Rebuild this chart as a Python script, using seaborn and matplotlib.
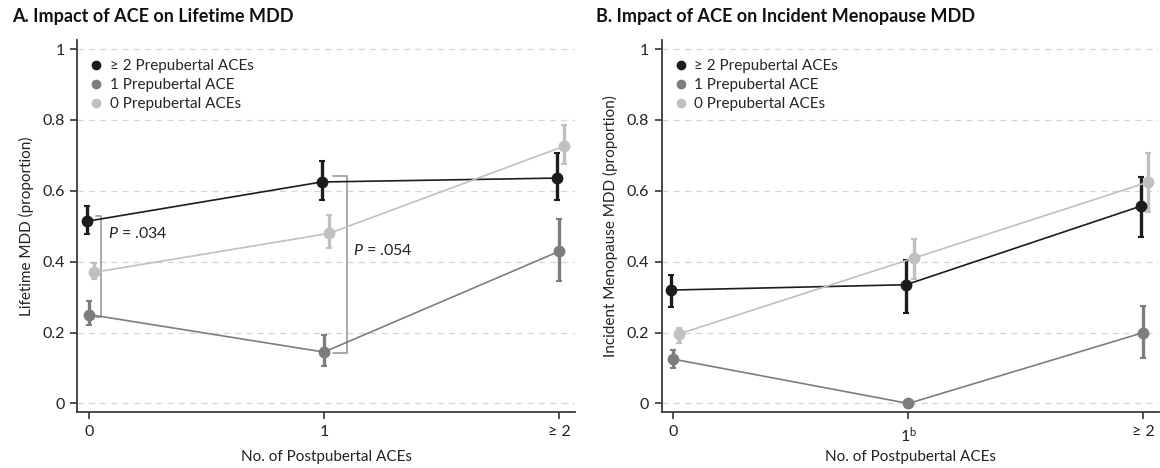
import numpy as np
import pandas as pd
import matplotlib
matplotlib.use("Agg")
import matplotlib.pyplot as plt
from matplotlib.ticker import FixedLocator, FuncFormatter
import seaborn as sns

# --- data (proportions) ---
post_labels = ["0", "1", "≥ 2"]
post_labels_b = ["0", "1$^{\\mathrm{b}}$", "≥ 2"]
groups = ["≥ 2 Prepubertal ACEs", "1 Prepubertal ACE", "0 Prepubertal ACEs"]

# panel A: lifetime MDD
a_mean = {
    "≥ 2 Prepubertal ACEs": [0.514, 0.625, 0.636],
    "1 Prepubertal ACE": [0.251, 0.145, 0.429],
    "0 Prepubertal ACEs": [0.370, 0.480, 0.726],
}
a_lo = {
    "≥ 2 Prepubertal ACEs": [0.479, 0.573, 0.573],
    "1 Prepubertal ACE": [0.222, 0.107, 0.345],
    "0 Prepubertal ACEs": [0.352, 0.438, 0.676],
}
a_hi = {
    "≥ 2 Prepubertal ACEs": [0.558, 0.683, 0.706],
    "1 Prepubertal ACE": [0.288, 0.192, 0.521],
    "0 Prepubertal ACEs": [0.396, 0.533, 0.787],
}

# panel B: incident menopause MDD
b_mean = {
    "≥ 2 Prepubertal ACEs": [0.320, 0.335, 0.557],
    "1 Prepubertal ACE": [0.125, 0.0, 0.200],
    "0 Prepubertal ACEs": [0.196, 0.410, 0.625],
}
b_lo = {
    "≥ 2 Prepubertal ACEs": [0.272, 0.256, 0.470],
    "1 Prepubertal ACE": [0.100, 0.0, 0.127],
    "0 Prepubertal ACEs": [0.172, 0.352, 0.540],
}
b_hi = {
    "≥ 2 Prepubertal ACEs": [0.363, 0.406, 0.640],
    "1 Prepubertal ACE": [0.150, 0.0, 0.275],
    "0 Prepubertal ACEs": [0.213, 0.465, 0.707],
}

colors = {"≥ 2 Prepubertal ACEs": "#1c1c1c",
          "1 Prepubertal ACE": "#7d7d7d",
          "0 Prepubertal ACEs": "#c0c0c0"}
dodge = {"≥ 2 Prepubertal ACEs": -0.01,
         "1 Prepubertal ACE": 0.0,
         "0 Prepubertal ACEs": 0.022}

sns.set_theme(style="ticks")
plt.rcParams["font.family"] = ["Lato", "DejaVu Sans"]
plt.rcParams["mathtext.fontset"] = "custom"
plt.rcParams["mathtext.rm"] = "Lato"
plt.rcParams["mathtext.it"] = "Lato:italic"

fig = plt.figure(figsize=(11.6, 4.68), dpi=100)
axA = fig.add_axes([0.0666, 0.119, 0.429, 0.795])
axB = fig.add_axes([0.5704, 0.119, 0.429, 0.795])


def to_frame(mean, lo, hi):
    rows = []
    for g in groups:
        for i in range(3):
            rows.append({"group": g, "x": i + dodge[g], "p": mean[g][i],
                         "lo": lo[g][i], "hi": hi[g][i]})
    return pd.DataFrame(rows)


def draw(ax, df, ylabel, xticklabels):
    for y in [0, 0.2, 0.4, 0.6, 0.8, 1.0]:
        ax.axhline(y, color="#d6d6d6", lw=0.9, ls=(0, (5, 4)), zorder=0)
    for g in groups:
        d = df[df.group == g]
        ax.errorbar(d.x, d.p, yerr=[d.p - d.lo, d.hi - d.p], fmt="none",
                    ecolor=colors[g], elinewidth=2.4, capsize=2.0,
                    capthick=1.5, zorder=2)
    sns.lineplot(data=df, x="x", y="p", hue="group", hue_order=groups,
                 palette=colors, marker="o", markersize=8.5,
                 markeredgewidth=0, linewidth=1.2, sort=False,
                 ax=ax, legend=False, zorder=3)
    ax.set_xlim(-0.05, 2.068)
    ax.set_ylim(-0.025, 1.025)
    ax.xaxis.set_major_locator(FixedLocator([0, 1, 2]))
    ax.set_xticklabels(xticklabels)
    ax.yaxis.set_major_locator(FixedLocator([0, 0.2, 0.4, 0.6, 0.8, 1.0]))
    ax.yaxis.set_major_formatter(FuncFormatter(lambda v, p: "0" if v == 0 else ("1" if v == 1 else f"{v:.1f}")))
    ax.set_xlabel("No. of Postpubertal ACEs", fontsize=11, color="#222222")
    ax.xaxis.set_label_coords(0.5, -0.1)
    ax.set_ylabel(ylabel, fontsize=11, color="#222222", labelpad=6)
    ax.tick_params(axis="both", labelsize=11.5, colors="#222222", length=5, width=1.1, pad=4)
    sns.despine(ax=ax)
    for s in ["left", "bottom"]:
        ax.spines[s].set_color("#3a3a3a")
        ax.spines[s].set_linewidth(1.3)
    # legend (markers only)
    handles = [plt.Line2D([], [], ls="none", marker="o", markersize=6,
                          color=colors[g]) for g in groups]
    ax.legend(handles, groups, loc="upper left", bbox_to_anchor=(-0.005, 0.99),
              frameon=False, fontsize=11, handlelength=0.8, handletextpad=0.5,
              labelspacing=0.33, borderaxespad=0.6)


dfA = to_frame(a_mean, a_lo, a_hi)
dfB = to_frame(b_mean, b_lo, b_hi)
draw(axA, dfA, "Lifetime MDD (proportion)", post_labels)
draw(axB, dfB, "Incident Menopause MDD (proportion)", post_labels_b)

# significance brackets on panel A
br = "#9a9a9a"
axA.plot([0.029, 0.053, 0.053, 0.029], [0.528, 0.528, 0.244, 0.244], color=br, lw=1.2, zorder=1)
axA.plot([1.037, 1.097, 1.097, 1.037], [0.643, 0.643, 0.141, 0.141], color=br, lw=1.2, zorder=1)
axA.text(0.08, 0.48, "$\\it{P}$ = .034", fontsize=11.5, va="center", ha="left", color="#222222")
axA.text(1.123, 0.432, "$\\it{P}$ = .054", fontsize=11.5, va="center", ha="left", color="#222222")

title_font = ["Liberation Sans Narrow", "Lato", "DejaVu Sans"]
fig.text(0.010, 0.965, "A. Impact of ACE on Lifetime MDD", fontsize=13,
         fontweight="bold", family=title_font, va="center", ha="left", color="#111111")
fig.text(0.514, 0.965, "B. Impact of ACE on Incident Menopause MDD", fontsize=13,
         fontweight="bold", family=title_font, va="center", ha="left", color="#111111")

fig.savefig("out.png", dpi=100)
